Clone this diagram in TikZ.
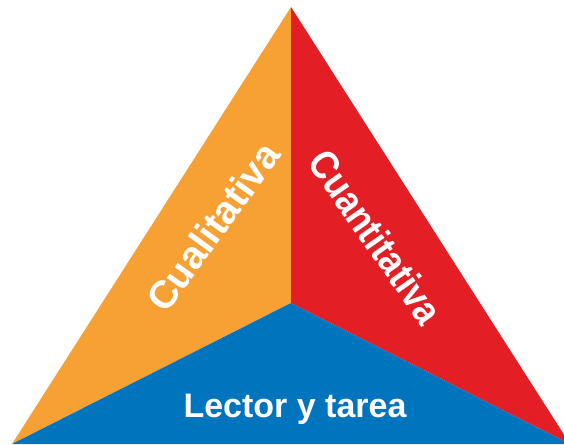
\documentclass[tikz,border=0pt]{standalone}
\usepackage{fontspec}
\setmainfont{Liberation Sans}
\definecolor{corange}{HTML}{F7A033}
\definecolor{cred}{HTML}{E31E25}
\definecolor{cblue}{HTML}{0074BC}
\begin{document}
\begin{tikzpicture}[x=1pt,y=-1pt,
  lab/.style={text=white,font=\bfseries,inner sep=0pt}]
\useasboundingbox (0,0) rectangle (564,444);
\coordinate (apex) at (291,7);
\coordinate (ctr) at (291,303);
\coordinate (bl) at (12,444);
\coordinate (br) at (570,444);
\begin{scope}
\clip (0,0) rectangle (564,444);
\fill[corange] (apex) -- (ctr) -- (bl) -- cycle;
\fill[cred] (apex) -- (br) -- (ctr) -- cycle;
\fill[cblue] (bl) -- (ctr) -- (br) -- cycle;
\end{scope}
\node[lab,rotate=54,font=\fontsize{39}{44}\selectfont\bfseries] (cual) at (213,227) {Cualitativa};
\node[lab,rotate=-55,font=\fontsize{40}{44}\selectfont\bfseries] (cuan) at (376,237) {\scalebox{0.88}[1]{Cuantitativa}};
\node[lab,anchor=base,font=\fontsize{34}{38}\selectfont\bfseries] (lect) at (295,417) {Lector y tarea};
\end{tikzpicture}
\end{document}
